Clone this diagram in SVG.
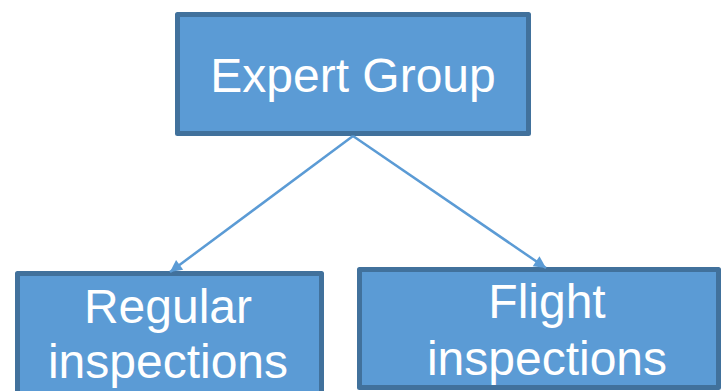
<svg xmlns="http://www.w3.org/2000/svg" width="721" height="391" viewBox="0 0 721 391">
<style>
.box{fill:#5B9BD5;stroke:#41719C;stroke-width:5;stroke-linejoin:round}
.lbl{fill:#fff;font-family:"Liberation Sans",Arial,sans-serif;font-size:48px;text-anchor:middle}
.conn{stroke:#5B9BD5;stroke-width:2.5;fill:none}
</style>
<defs>
<marker id="arr" viewBox="0 0 10 10" refX="10" refY="5" markerWidth="14" markerHeight="12" markerUnits="userSpaceOnUse" orient="auto" overflow="visible">
<path d="M0,0 L10,5 L0,10 z" fill="#5B9BD5"/>
</marker>
</defs>
<rect width="721" height="391" fill="#fff"/>
<g id="expert-group">
<rect class="box" x="177.5" y="14.5" width="351" height="119"/>
<text class="lbl" x="353" y="92">Expert Group</text>
</g>
<g id="regular-inspections">
<rect class="box" x="17.5" y="273.5" width="304" height="130"/>
<text class="lbl" x="168" y="323">Regular</text>
<text class="lbl" x="168" y="378">inspections</text>
</g>
<g id="flight-inspections">
<rect class="box" x="359.5" y="269.5" width="359" height="118"/>
<text class="lbl" x="547" y="318">Flight</text>
<text class="lbl" x="547" y="375">inspections</text>
</g>
<g id="connectors">
<line class="conn" x1="353" y1="136" x2="170" y2="272" marker-end="url(#arr)"/>
<line class="conn" x1="353" y1="136" x2="546" y2="268" marker-end="url(#arr)"/>
</g>
</svg>
